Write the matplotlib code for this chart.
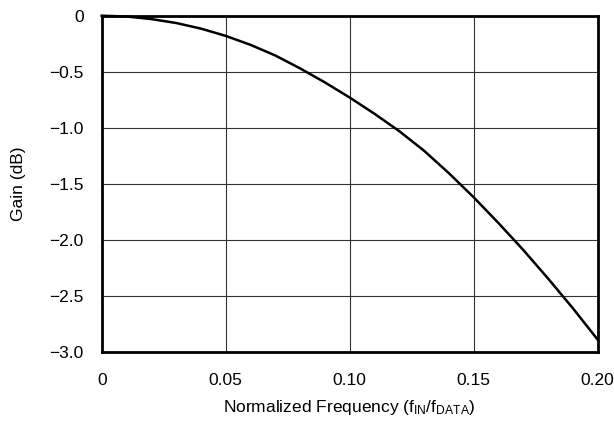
import matplotlib
matplotlib.use("Agg")
import matplotlib.pyplot as plt

plt.rcParams['font.family'] = ['Liberation Sans', 'DejaVu Sans']
plt.rcParams['mathtext.fontset'] = 'custom'
plt.rcParams['mathtext.rm'] = 'Liberation Sans'
plt.rcParams['mathtext.it'] = 'Liberation Sans'
plt.rcParams['axes.unicode_minus'] = True

freq = [0.0, 0.01, 0.02, 0.03, 0.04, 0.05, 0.06, 0.07, 0.08, 0.09, 0.10,
        0.11, 0.12, 0.13, 0.14, 0.15, 0.16, 0.17, 0.18, 0.19, 0.20]
gain = [0.0, -0.007, -0.03, -0.065, -0.115, -0.18, -0.26, -0.355, -0.47, -0.595, -0.73,
        -0.875, -1.03, -1.205, -1.405, -1.62, -1.85, -2.09, -2.345, -2.61, -2.89]
xticks = [0, 0.05, 0.10, 0.15, 0.20]
xticklabels = ["0", "0.05", "0.10", "0.15", "0.20"]
yticks = [0, -0.5, -1.0, -1.5, -2.0, -2.5, -3.0]
yticklabels = ["0", "\u22120.5", "\u22121.0", "\u22121.5", "\u22122.0", "\u22122.5", "\u22123.0"]

fig = plt.figure(figsize=(6.14, 4.25), dpi=100)
ax = fig.add_axes([101.7/614, 1 - 352/425, (597.7 - 101.7)/614, (352 - 15.7)/425])

ax.plot(freq, gain, color='black', lw=1.8, zorder=3, clip_on=False,
        solid_joinstyle='round')
ax.set_xlim(0, 0.20)
ax.set_ylim(-3.0, 0)
ax.set_xticks(xticks)
ax.set_xticklabels(xticklabels)
ax.set_yticks(yticks)
ax.set_yticklabels(yticklabels)
ax.tick_params(length=0, labelsize=12.5, colors='black')
ax.tick_params(axis='x', pad=15)
ax.tick_params(axis='y', pad=13)
ax.grid(True, color='#333333', lw=0.8)
for s in ax.spines.values():
    s.set_linewidth(2.0)
    s.set_color('black')
ax.set_xlabel("Normalized Frequency (f$_{\\mathrm{IN}}$/f$_{\\mathrm{DATA}}$)", fontsize=12.5, labelpad=7)
ax.set_ylabel("Gain (dB)", fontsize=12.5, labelpad=17)

fig.savefig("out.png", dpi=100)
